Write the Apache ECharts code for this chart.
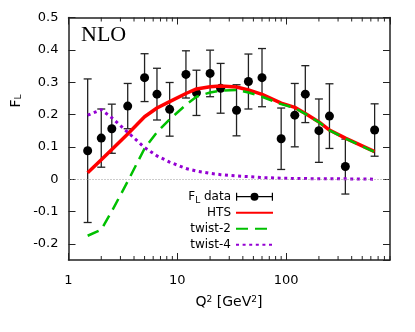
<!DOCTYPE html>
<html>
<head>
<meta charset="utf-8">
<script src="https://cdn.jsdelivr.net/npm/echarts@6/dist/echarts.min.js"></script>
<style>
html, body { margin: 0; padding: 0; background: #fff; }
#chart { width: 415px; height: 332px; }
</style>
</head>
<body>
<div id="chart"></div>
<script>
// Q^2 values of the measurements (GeV^2)
const q2 = [1.5, 2, 2.5, 3.5, 5, 6.5, 8.5, 12, 15, 20, 25, 35, 45, 60, 90, 120, 150, 200, 250, 350, 650]
const flData = [0.088, 0.127, 0.156, 0.226, 0.314, 0.263, 0.216, 0.324, 0.267, 0.327, 0.281, 0.213, 0.302, 0.314, 0.125, 0.198, 0.263, 0.150, 0.195, 0.039, 0.152]
const flErr = [0.222, 0.090, 0.076, 0.070, 0.074, 0.080, 0.083, 0.073, 0.070, 0.072, 0.077, 0.079, 0.085, 0.090, 0.095, 0.098, 0.088, 0.098, 0.100, 0.085, 0.081]

// model curves at the same Q^2 points
const hts = [0.020, 0.060, 0.092, 0.140, 0.193, 0.220, 0.240, 0.265, 0.279, 0.286, 0.288, 0.285, 0.276, 0.262, 0.235, 0.222, 0.203, 0.177, 0.152, 0.127, 0.085]
const twist2 = [-0.175, -0.156, -0.099, -0.007, 0.095, 0.145, 0.185, 0.230, 0.255, 0.268, 0.274, 0.276, 0.268, 0.255, 0.232, 0.220, 0.202, 0.176, 0.151, 0.126, 0.084]
const twist4 = [0.198, 0.215, 0.190, 0.145, 0.098, 0.072, 0.053, 0.033, 0.025, 0.018, 0.014, 0.010, 0.008, 0.005, 0.003, 0.002, 0.002, 0.001, 0.001, 0.001, 0.000]

// minor ticks of the log axis (major ones at 1, 10, 100 come from the axis)
const xMinor = [2, 3, 4, 5, 6, 7, 8, 9, 20, 30, 40, 50, 60, 70, 80, 90, 200, 300, 400, 500, 600, 700, 800, 900]

const FONT = 'DejaVu Sans'
const frameColor = '#222'

const chart = echarts.init(document.getElementById('chart'))

const makeX = (position, withLabel) => ({
  type: 'log',
  logBase: 10,
  min: 1,
  max: 900,
  position,
  splitLine: { show: false },
  axisLine: { show: true, onZero: false, lineStyle: { color: frameColor, width: 1.5 } },
  axisTick: { show: true, inside: true, length: 7, lineStyle: { color: frameColor, width: 1 } },
  axisLabel: withLabel
    ? { show: true, showMaxLabel: false, color: '#000', fontFamily: FONT, fontSize: 13, margin: 14 }
    : { show: false }
})

const makeY = (position, withLabel) => ({
  type: 'value',
  min: -0.25,
  max: 0.5,
  splitNumber: 7,
  position,
  splitLine: { show: false },
  axisLine: { show: true, onZero: false, lineStyle: { color: frameColor, width: 1.5 } },
  axisTick: { show: true, inside: true, length: 7, lineStyle: { color: frameColor, width: 1 } },
  axisLabel: withLabel
    ? { show: true, showMinLabel: false, color: '#000', fontFamily: FONT, fontSize: 13, margin: 10 }
    : { show: false }
})

const option = {
  animation: false,
  graphic: [
    {
      type: 'text',
      left: 81,
      top: 24,
      style: { text: 'NLO', fill: '#000', font: '22px "Liberation Serif"' }
    },
    {
      type: 'text',
      x: 16,
      y: 101,
      rotation: Math.PI / 2,
      style: {
        text: 'F{sub|L}',
        fill: '#000',
        font: '14px "DejaVu Sans"',
        align: 'center',
        verticalAlign: 'middle',
        rich: { sub: { fontSize: 9, lineHeight: 9, fontFamily: FONT, verticalAlign: 'bottom', padding: [7, 0, 0, 0] } }
      }
    },
    {
      type: 'text',
      x: 229,
      y: 302,
      style: {
        text: 'Q{sup|2} [GeV{sup|2}]',
        fill: '#000',
        font: '14px "DejaVu Sans"',
        align: 'center',
        verticalAlign: 'middle',
        rich: { sup: { fontSize: 9, lineHeight: 9, fontFamily: FONT, verticalAlign: 'top', padding: [0, 0, 7, 0] } }
      }
    }
  ],
  grid: { left: 68.5, right: 25, top: 17.5, bottom: 72 },
  legend: {
    orient: 'vertical',
    right: 141,
    top: 188.7,
    padding: 0,
    align: 'right',
    itemWidth: 37,
    itemHeight: 12,
    itemGap: 0,
    selectedMode: false,
    textStyle: {
      color: '#000', fontFamily: FONT, fontSize: 12, lineHeight: 16,
      rich: { sub: { fontFamily: FONT, fontSize: 9, lineHeight: 9, verticalAlign: 'bottom', padding: [6, 0, 0, 0], color: '#000' } }
    },
    formatter: name => name === 'F_L data' ? 'F{sub|L} data' : name,
    data: [
      {
        name: 'F_L data',
        icon: 'path://M0,2 L1.2,2 L1.2,10 L0,10 Z M0,5.4 L14.5,5.4 L14.5,6.6 L0,6.6 Z M22.5,5.4 L37,5.4 L37,6.6 L22.5,6.6 Z M35.8,2 L37,2 L37,10 L35.8,10 Z M22.5,6 A4,4 0 1,1 14.5,6 A4,4 0 1,1 22.5,6 Z'
      },
      { name: 'HTS' },
      { name: 'twist-2' },
      { name: 'twist-4' }
    ]
  },
  xAxis: [makeX('bottom', true), makeX('top', false)],
  yAxis: [makeY('left', true), makeY('right', false)],
  series: [
    {
      // short minor ticks on the bottom and top frame, placed by the log scale
      name: 'minor ticks',
      type: 'custom',
      silent: true,
      data: xMinor.map(v => [v, 0]),
      renderItem: (params, api) => {
        const x = api.coord([api.value(0), 0])[0]
        const cs = params.coordSys
        const style = { stroke: frameColor, lineWidth: 1 }
        return {
          type: 'group',
          children: [
            { type: 'line', shape: { x1: x, y1: cs.y + cs.height, x2: x, y2: cs.y + cs.height - 4 }, style },
            { type: 'line', shape: { x1: x, y1: cs.y, x2: x, y2: cs.y + 4 }, style }
          ]
        }
      }
    },
    {
      name: 'errors',
      type: 'custom',
      data: q2.map((q, i) => [q, flData[i] - flErr[i], flData[i] + flErr[i]]),
      encode: { x: 0, y: [1, 2] },
      renderItem: (params, api) => {
        const x = api.value(0)
        const lo = api.coord([x, api.value(1)])
        const hi = api.coord([x, api.value(2)])
        const cap = 4
        const style = { stroke: '#222', lineWidth: 1.3 }
        return {
          type: 'group',
          children: [
            { type: 'line', shape: { x1: lo[0], y1: lo[1], x2: hi[0], y2: hi[1] }, style },
            { type: 'line', shape: { x1: lo[0] - cap, y1: lo[1], x2: lo[0] + cap, y2: lo[1] }, style },
            { type: 'line', shape: { x1: hi[0] - cap, y1: hi[1], x2: hi[0] + cap, y2: hi[1] }, style }
          ]
        }
      }
    },
    {
      name: 'HTS',
      type: 'line',
      symbol: 'none',
      color: '#ff0000',
      itemStyle: { opacity: 0 },
      lineStyle: { color: '#ff0000', width: 3.5 },
      data: q2.map((q, i) => [q, hts[i]])
    },
    {
      name: 'twist-2',
      type: 'line',
      symbol: 'none',
      color: '#00c000',
      itemStyle: { opacity: 0 },
      lineStyle: { color: '#00c000', width: 2.5, type: [12, 7] },
      data: q2.map((q, i) => [q, twist2[i]])
    },
    {
      name: 'twist-4',
      type: 'line',
      symbol: 'none',
      color: '#9400d3',
      itemStyle: { opacity: 0 },
      lineStyle: { color: '#9400d3', width: 3, type: [3, 3.6] },
      data: q2.map((q, i) => [q, twist4[i]]),
      markLine: {
        silent: true,
        symbol: ['none', 'none'],
        label: { show: false },
        lineStyle: { color: '#999', width: 1, type: [1, 2] },
        data: [{ yAxis: 0 }]
      }
    },
    {
      name: 'F_L data',
      type: 'scatter',
      symbol: 'circle',
      symbolSize: 9,
      color: '#000',
      itemStyle: { color: '#000', opacity: 1 },
      data: q2.map((q, i) => [q, flData[i]])
    }
  ]
}

chart.setOption(option)
</script>
</body>
</html>
